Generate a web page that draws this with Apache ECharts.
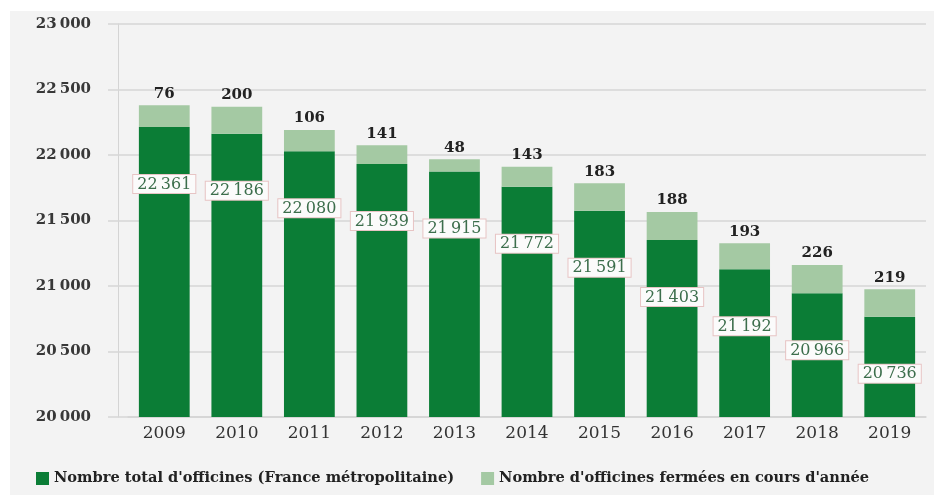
<!DOCTYPE html>
<html>
<head>
<meta charset="utf-8">
<script src="https://cdn.jsdelivr.net/npm/echarts@6/dist/echarts.min.js"></script>
<style>
  html, body { margin: 0; padding: 0; background: #ffffff; }
  #chart { width: 934px; height: 497px; }
</style>
</head>
<body>
<div id="chart"></div>
<script>
// Category labels
const years = ['2009', '2010', '2011', '2012', '2013', '2014', '2015', '2016', '2017', '2018', '2019'];
// Values printed on the chart
const totalOfficines = [22361, 22186, 22080, 21939, 21915, 21772, 21591, 21403, 21192, 20966, 20736];
const closedOfficines = [76, 200, 106, 141, 48, 143, 183, 188, 193, 226, 219];
// Bar heights as drawn in the picture (dark segment top, light segment thickness)
const drawnTotal = [22214, 22163, 22028, 21931, 21875, 21758, 21575, 21351, 21127, 20944, 20766];
const drawnClosed = [165, 206, 163, 143, 92, 153, 209, 214, 199, 216, 209];
// Y axis ticks
const yMin = 20000, yMax = 23000, yStep = 500;

const seriesNames = ["Nombre total d'officines (France métropolitaine)", "Nombre d'officines fermées en cours d'année"];

const FONT = 'DejaVu Serif';
function fmt(n) {
  return String(n).replace(/\B(?=(\d{3})+(?!\d))/g, '\u2009');
}

const chart = echarts.init(document.getElementById('chart'), null, { renderer: 'canvas' });
chart.setOption({
  backgroundColor: '#ffffff',
  animation: false,
  textStyle: { fontFamily: FONT },
  graphic: [{
    type: 'rect', z: -10, silent: true,
    shape: { x: 10, y: 11, width: 924, height: 484 },
    style: { fill: '#f3f3f3' }
  }],
  grid: { left: 128, right: 8, top: 24, bottom: 80 },
  legend: {
    left: 31, top: 466,
    itemWidth: 13, itemHeight: 13, itemGap: 27,
    icon: 'rect',
    textStyle: { fontFamily: FONT, fontSize: 14.6, fontWeight: 'bold', color: '#222' },
    data: seriesNames
  },
  xAxis: {
    type: 'category',
    data: years,
    axisLine: { show: true, lineStyle: { color: '#d4d4d4', width: 1.5 } },
    axisTick: { show: false },
    axisLabel: { margin: 8, fontFamily: FONT, fontSize: 17, color: '#333' }
  },
  yAxis: [{
    type: 'value', position: 'left', offset: 10,
    min: yMin, max: yMax, interval: yStep,
    axisLine: { show: true, lineStyle: { color: '#d4d4d4', width: 1 } },
    axisTick: { show: false },
    axisLabel: { margin: 27, fontFamily: FONT, fontSize: 15, fontWeight: 'bold', color: '#383838', formatter: v => fmt(v) },
    splitLine: { show: true, lineStyle: { color: '#d6d6d6', width: 1.5 } }
  }, {
    type: 'value', position: 'left', offset: 20,
    min: yMin, max: yMax, interval: yStep,
    axisLine: { show: false },
    axisTick: { show: true, inside: true, length: 20, lineStyle: { color: '#d6d6d6', width: 1.5 } },
    axisLabel: { show: false },
    splitLine: { show: false }
  }],
  series: [{
    name: seriesNames[0],
    type: 'bar', stack: 'a', yAxisIndex: 0,
    barWidth: '70%',
    data: drawnTotal,
    itemStyle: { color: '#0b7d36' },
    label: {
      show: true, position: 'insideTop', distance: 0, offset: [0, 48],
      formatter: p => fmt(totalOfficines[p.dataIndex]),
      fontFamily: FONT, fontSize: 16, color: '#3c6e4c',
      backgroundColor: '#fbfbfb', borderColor: '#e7c4c4', borderWidth: 1,
      padding: [1, 4, 0, 4], lineHeight: 17
    }
  }, {
    name: seriesNames[1],
    type: 'bar', stack: 'a', yAxisIndex: 0,
    barWidth: '70%',
    data: drawnClosed,
    itemStyle: { color: '#a4c9a3' },
    label: {
      show: true, position: 'top', distance: 4,
      formatter: p => String(closedOfficines[p.dataIndex]),
      fontFamily: FONT, fontSize: 15, fontWeight: 'bold', color: '#222'
    }
  }]
});
</script>
</body>
</html>
